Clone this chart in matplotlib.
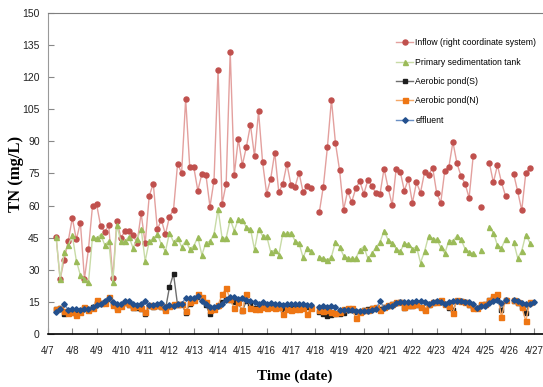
import matplotlib
matplotlib.use('Agg')
import matplotlib.pyplot as plt
import matplotlib.dates as mdates
import numpy as np
import pandas as pd

nan = np.nan

# sampling every 4 h starting 4/7 08:00
sampleTimes = pd.date_range('2017-04-07 08:00', periods=119, freq='4h')

inflow = [45.5, 25.5, 34.8, 43.4, 54.2, 44.2, 52.0, 25.8, 39.8, 60.0,
          60.6, 50.5, 47.7, 50.8, 26.1, 53.0, 45.0, 48.0, 48.1, 46.2,
          42.5, 56.4, 42.3, 64.5, 70.3, 48.9, 53.3, 46.6, 54.8, 58.1,
          79.5, 75.3, 109.8, 78.1, 78.0, 67.0, 74.8, 74.4, 59.5, 71.7,
          123.4, 60.8, 70.2, 131.9, 74.4, 91.1, 79.0, 87.5, 97.7, 83.1,
          104.0, 80.2, 65.6, 72.5, 84.8, 66.3, 70.2, 79.5, 69.7, 68.8,
          75.3, 66.3, 69.1, 68.0, nan, 56.9, 68.9, 87.2, 109.5, 89.1,
          76.7, 58.1, 66.7, 61.7, 68.0, 71.4, 65.5, 71.9, 69.2, 65.8,
          65.5, 77.3, 68.3, 60.3, 77.3, 75.8, 67.0, 72.3, 61.3, 70.8,
          66.1, 75.6, 74.4, 77.7, 65.8, 61.4, 76.4, 78.0, 89.7, 79.8,
          73.8, 70.3, 63.6, 83.0, nan, 59.5, nan, 80.0, 70.8, 78.9,
          70.8, 64.5, nan, 74.8, 66.6, 57.8, 75.2, 77.7, nan]

primary = [45.5, 25.5, 38.3, 41.4, 46.1, 34.2, 27.5, 25.6, 24.1, 45.5,
           44.8, 46.4, 41.7, 43.4, 24.1, 50.8, 43.3, 43.3, 45.5, 40.2,
           44.5, 49.2, 34.1, 43.3, 44.7, 46.6, 42.0, 38.6, 47.3, 43.0,
           44.8, 40.8, 43.4, 39.8, 41.1, 45.3, 36.9, 42.7, 43.3, 46.7,
           58.4, 44.8, 44.8, 53.6, 48.3, 53.6, 53.3, 49.8, 49.2, 39.5,
           49.2, 45.8, 45.8, 38.3, 39.2, 37.0, 47.0, 47.0, 47.3, 43.6,
           42.3, 35.8, 40.2, 38.9, nan, 36.1, 35.3, 34.5, 36.1, 43.0,
           40.8, 36.6, 35.3, 35.3, 35.3, 39.4, 40.8, 35.3, 37.7, 40.5,
           43.0, 48.3, 43.9, 42.7, 39.8, 38.6, 42.3, 42.0, 39.8, 40.8,
           33.3, 38.6, 45.8, 44.5, 44.2, 40.5, 37.7, 43.6, 43.6, 45.8,
           44.2, 39.8, 38.3, 37.7, nan, 39.2, nan, 50.2, 47.3, 41.4,
           40.2, 44.5, nan, 43.0, 35.5, 38.9, 46.4, 42.7, nan]

aerobicS = [11.6, 12.0, 9.2, 10.5, 10.5, 9.5, 10.5, 12.0, 11.5, 12.5,
            14.5, 14.5, 14.8, 16.5, 14.0, 12.0, 13.0, 14.5, 13.5, 12.0,
            12.0, 11.5, 9.5, 13.0, 12.5, 13.0, 12.5, 11.5, 21.9, 28.1,
            13.5, 14.0, 10.0, 14.0, 16.0, 17.5, 16.5, 13.5, 9.2, 12.0,
            13.0, 15.0, 16.5, 16.0, 15.0, 14.5, 10.7, 15.5, 14.0, 12.0,
            12.0, 13.0, 12.5, 12.5, 12.5, 12.0, 11.0, 11.5, 12.0, 12.5,
            12.0, 12.0, 12.5, 12.0, nan, 10.1, 9.5, 8.6, 9.0, 9.5,
            9.5, 10.0, 11.0, 11.0, 10.5, 10.5, 11.0, 11.5, 12.0, 12.3,
            11.5, 12.5, 13.2, 13.8, 14.5, 14.8, 12.3, 13.3, 13.3, 13.6,
            12.6, 11.0, 13.5, 14.6, 15.0, 15.5, 14.0, 12.3, 11.0, 15.5,
            15.2, 14.8, 13.6, 12.3, 12.1, 13.6, 14.0, 16.0, 17.0, 17.0,
            11.0, 15.8, nan, 15.5, 14.6, 12.5, 10.0, 14.5, nan]

aerobicN = [11.6, 12.3, 10.7, 9.8, 10.1, 8.9, 10.1, 12.6, 11.3, 12.3,
            15.7, 14.4, 14.4, 17.2, 13.5, 11.6, 13.2, 14.8, 13.8, 12.6,
            12.9, 12.3, 10.4, 13.5, 12.9, 13.5, 12.9, 11.3, 12.9, 13.8,
            14.1, 14.1, 10.7, 14.8, 16.0, 18.8, 17.2, 14.8, 11.3, 11.6,
            13.5, 18.5, 21.3, 16.3, 12.0, 14.8, 11.0, 18.8, 12.3, 11.6,
            11.6, 12.6, 12.0, 12.6, 12.3, 12.6, 9.5, 11.6, 11.0, 11.6,
            11.6, 12.0, 9.5, 12.0, nan, 11.3, 10.7, 11.0, 10.1, 9.8,
            10.1, 11.6, 12.0, 12.0, 7.6, 10.1, 11.0, 11.3, 12.3, 12.6,
            11.0, 12.6, 13.5, 14.1, 14.8, 15.1, 12.6, 13.5, 13.5, 13.8,
            12.6, 11.3, 13.8, 14.8, 15.1, 16.0, 14.1, 12.9, 9.8, 16.0,
            15.4, 15.1, 13.8, 12.3, 12.3, 13.8, 14.1, 16.0, 17.9, 18.5,
            7.9, 16.0, nan, 15.7, 14.8, 12.6, 6.0, 14.8, nan]

effluent = [10.4, 11.6, 14.1, 11.3, 11.5, 11.5, 11.3, 11.6, 11.9, 12.6,
            13.5, 14.1, 15.4, 16.6, 14.8, 13.8, 14.1, 15.4, 15.4, 14.1,
            13.5, 14.1, 15.4, 13.5, 13.5, 13.8, 14.4, 12.6, 13.5, 13.2,
            14.1, 14.1, 16.9, 16.9, 16.6, 17.9, 15.4, 13.8, 12.6, 12.6,
            12.9, 14.1, 16.0, 17.2, 17.5, 16.3, 16.6, 16.0, 15.4, 15.1,
            14.1, 14.8, 14.1, 14.4, 14.1, 13.8, 13.5, 14.1, 13.8, 14.1,
            14.1, 13.8, 13.5, 13.5, nan, 12.6, 12.9, 12.6, 12.9, 12.6,
            11.3, 11.3, 11.0, 11.0, 10.7, 10.7, 10.7, 10.7, 11.0, 11.6,
            15.4, 12.3, 12.9, 13.2, 14.4, 14.8, 15.1, 14.8, 14.8, 15.4,
            15.4, 15.1, 13.8, 14.8, 15.4, 14.8, 14.1, 14.8, 15.4, 15.4,
            15.4, 15.1, 14.8, 13.8, 12.3, 12.9, 13.2, 14.4, 15.4, 15.7,
            14.4, 15.7, nan, 15.7, 15.4, 14.4, 14.1, 14.1, 15.1]

seriesNames = ['Inflow (right coordinate system)', 'Primary sedimentation tank',
               'Aerobic pond(S)', 'Aerobic pond(N)', 'effluent']
yTicks = list(range(0, 151, 15))

tickFont = ['Liberation Sans', 'DejaVu Sans']
labelFont = ['Liberation Serif', 'DejaVu Serif']

fig = plt.figure(figsize=(5.43, 3.87), dpi=100)
ax = fig.add_axes([48/543, 53/387, (543-48)/543, (334-13)/387])

styles = [
    dict(marker='o', ms=3.6, mfc='#C0504D', mec='#C0504D', color='#E3A09E', lw=1.0),
    dict(marker='^', ms=3.6, mfc='#9BBB59', mec='#9BBB59', color='#C8DBA6', lw=1.0),
    dict(marker='s', ms=2.8, mfc='#1E1E1E', mec='#1E1E1E', color='#6E6E6E', lw=1.0),
    dict(marker='s', ms=3.6, mfc='#EE7614', mec='#EE7614', color='#F4A766', lw=1.0),
    dict(marker='D', ms=2.8, mfc='#23508E', mec='#23508E', color='#6A8FC4', lw=1.0),
]
data = [inflow, primary, aerobicS, aerobicN, effluent]
for vals, name, st in zip(data, seriesNames, styles):
    ax.plot(sampleTimes, vals, label=name, **st)

ax.set_ylim(0, 150)
ax.set_yticks(yTicks)
ax.set_xlim(pd.Timestamp('2017-04-07 00:00'), pd.Timestamp('2017-04-27 09:00'))
ax.xaxis.set_major_locator(mdates.DayLocator())
ax.xaxis.set_major_formatter(
    matplotlib.ticker.FuncFormatter(lambda v, p: '%d/%d' % (mdates.num2date(v).month,
                                                           mdates.num2date(v).day)))

ax.tick_params(axis='both', direction='in', length=4, width=0.8, colors='#888888',
               labelcolor='#222222')
ax.tick_params(axis='x', pad=9, labelsize=7)
ax.tick_params(axis='y', pad=6, labelsize=7.5)
for lbl in ax.get_xticklabels() + ax.get_yticklabels():
    lbl.set_family(tickFont)

ax.spines['right'].set_visible(False)
ax.spines['top'].set_color('#7F7F7F')
ax.spines['left'].set_color('#999999')
ax.spines['bottom'].set_color('#000000')
ax.spines['bottom'].set_linewidth(1.2)

fig.text(0.03, 1 - (334 + 13) / 2 / 387, 'TN (mg/L)',
         rotation=90, ha='center', va='center', fontsize=12, fontweight='bold',
         family=labelFont)
fig.text(295/543, 1 - 376/387, 'Time (date)', ha='center', va='center',
         fontsize=11, fontweight='bold', family=labelFont)

leg = ax.legend(loc='upper left', bbox_to_anchor=(393/543, 1 - 35/387),
                bbox_transform=fig.transFigure, frameon=False,
                prop={'family': tickFont, 'size': 6.2}, handlelength=1.9,
                handletextpad=0.3, labelspacing=1.2, borderaxespad=0)

fig.savefig('out.png', dpi=100)
